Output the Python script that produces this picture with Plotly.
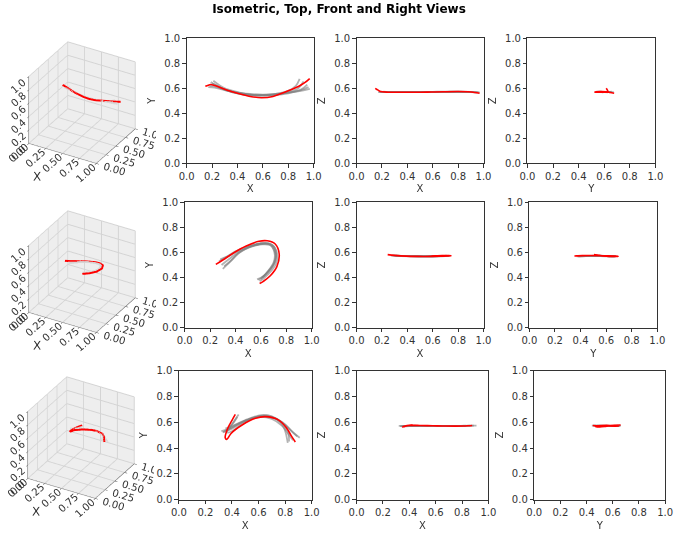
import plotly.graph_objects as go

# ---------------- data ----------------
# Row 1
r1_red_x = [0.147, 0.17, 0.19, 0.25, 0.32, 0.40, 0.50, 0.59, 0.68, 0.80, 0.88, 0.93, 0.969]
r1_red_y = [0.616, 0.625, 0.630, 0.612, 0.585, 0.560, 0.535, 0.525, 0.535, 0.580, 0.615, 0.645, 0.678]
r1_red_z = [0.600, 0.585, 0.574, 0.569, 0.568, 0.568, 0.569, 0.570, 0.572, 0.574, 0.572, 0.567, 0.561]
r1_gray_x = [
    [0.19, 0.22, 0.30, 0.40, 0.50, 0.60, 0.70, 0.80, 0.86, 0.89],
    [0.20, 0.24, 0.30, 0.40, 0.50, 0.60, 0.70, 0.80, 0.88, 0.92],
    [0.18, 0.22, 0.30, 0.40, 0.50, 0.60, 0.70, 0.80, 0.90, 0.95],
    [0.17, 0.22, 0.30, 0.40, 0.50, 0.60, 0.70, 0.80, 0.90, 0.97],
    [0.21, 0.25, 0.30, 0.40, 0.50, 0.60, 0.70, 0.80, 0.90, 0.96],
]
r1_gray_y = [
    [0.650, 0.630, 0.590, 0.560, 0.545, 0.545, 0.555, 0.580, 0.620, 0.675],
    [0.640, 0.620, 0.590, 0.560, 0.545, 0.545, 0.550, 0.570, 0.600, 0.655],
    [0.620, 0.615, 0.590, 0.565, 0.550, 0.545, 0.550, 0.565, 0.590, 0.630],
    [0.610, 0.605, 0.585, 0.565, 0.555, 0.550, 0.555, 0.565, 0.580, 0.595],
    [0.660, 0.630, 0.600, 0.570, 0.550, 0.540, 0.545, 0.560, 0.585, 0.610],
]
r1_gray_z = [
    [0.572, 0.571, 0.570, 0.570, 0.570, 0.571, 0.572, 0.572, 0.571, 0.569],
    [0.571, 0.570, 0.570, 0.569, 0.570, 0.571, 0.572, 0.573, 0.571, 0.570],
    [0.570, 0.570, 0.569, 0.569, 0.570, 0.571, 0.572, 0.572, 0.571, 0.568],
    [0.569, 0.569, 0.569, 0.570, 0.570, 0.571, 0.572, 0.572, 0.570, 0.567],
    [0.573, 0.571, 0.570, 0.570, 0.571, 0.572, 0.573, 0.573, 0.572, 0.569],
]

# Row 2
r2_red_x = [0.245, 0.30, 0.39, 0.48, 0.585, 0.65, 0.713, 0.744, 0.726, 0.674, 0.62, 0.59]
r2_red_y = [0.505, 0.540, 0.600, 0.650, 0.690, 0.694, 0.668, 0.590, 0.487, 0.414, 0.370, 0.352]
r2_red_z = [0.583, 0.577, 0.571, 0.569, 0.569, 0.570, 0.572, 0.574, 0.576, 0.575, 0.573, 0.572]
r2_gray_x = [
    [0.27, 0.32, 0.40, 0.50, 0.60, 0.66, 0.70, 0.72, 0.71, 0.67, 0.62, 0.58],
    [0.29, 0.34, 0.42, 0.50, 0.60, 0.66, 0.69, 0.71, 0.70, 0.67, 0.63, 0.60],
    [0.30, 0.35, 0.42, 0.50, 0.60, 0.67, 0.71, 0.73, 0.72, 0.68, 0.63, 0.59],
    [0.28, 0.33, 0.40, 0.50, 0.60, 0.66, 0.70, 0.72, 0.71, 0.68, 0.64, 0.61],
    [0.31, 0.36, 0.43, 0.52, 0.61, 0.67, 0.70, 0.715, 0.70, 0.665, 0.62, 0.57],
]
r2_gray_y = [
    [0.530, 0.560, 0.610, 0.650, 0.675, 0.675, 0.650, 0.580, 0.520, 0.460, 0.410, 0.380],
    [0.500, 0.540, 0.600, 0.640, 0.670, 0.670, 0.645, 0.580, 0.520, 0.470, 0.420, 0.390],
    [0.470, 0.520, 0.590, 0.640, 0.670, 0.670, 0.640, 0.575, 0.510, 0.450, 0.400, 0.370],
    [0.545, 0.565, 0.600, 0.645, 0.670, 0.668, 0.645, 0.585, 0.525, 0.470, 0.425, 0.400],
    [0.490, 0.530, 0.600, 0.645, 0.665, 0.660, 0.630, 0.570, 0.510, 0.460, 0.410, 0.385],
]
r2_gray_z = [
    [0.576, 0.574, 0.571, 0.570, 0.570, 0.571, 0.572, 0.573, 0.573, 0.572, 0.571, 0.570],
    [0.575, 0.573, 0.571, 0.570, 0.570, 0.571, 0.572, 0.573, 0.573, 0.572, 0.571, 0.571],
    [0.574, 0.572, 0.570, 0.569, 0.570, 0.571, 0.572, 0.572, 0.572, 0.571, 0.570, 0.570],
    [0.577, 0.575, 0.572, 0.570, 0.570, 0.571, 0.572, 0.573, 0.574, 0.573, 0.572, 0.571],
    [0.575, 0.573, 0.571, 0.570, 0.570, 0.570, 0.571, 0.572, 0.572, 0.571, 0.570, 0.570],
]

# Row 3
r3_red_x = [0.425, 0.40, 0.369, 0.349, 0.361, 0.393, 0.479, 0.577, 0.651, 0.749, 0.811, 0.848, 0.877]
r3_red_y = [0.660, 0.615, 0.555, 0.480, 0.467, 0.513, 0.580, 0.630, 0.643, 0.618, 0.555, 0.492, 0.447]
r3_red_z = [0.578, 0.576, 0.570, 0.563, 0.566, 0.574, 0.575, 0.572, 0.571, 0.570, 0.571, 0.573, 0.575]
r3_gray_x = [
    [0.32, 0.38, 0.45, 0.55, 0.63, 0.72, 0.80, 0.86, 0.91],
    [0.45, 0.41, 0.37, 0.36, 0.40, 0.48, 0.58, 0.66, 0.74, 0.79, 0.82],
    [0.33, 0.40, 0.50, 0.60, 0.70, 0.78, 0.84, 0.89],
    [0.44, 0.40, 0.35, 0.34, 0.40, 0.50, 0.60, 0.70, 0.78, 0.83, 0.86],
    [0.35, 0.42, 0.52, 0.62, 0.70, 0.77, 0.82, 0.83],
]
r3_gray_y = [
    [0.530, 0.550, 0.590, 0.630, 0.645, 0.630, 0.580, 0.520, 0.480],
    [0.660, 0.600, 0.540, 0.520, 0.530, 0.590, 0.640, 0.650, 0.620, 0.560, 0.440],
    [0.520, 0.560, 0.610, 0.645, 0.640, 0.600, 0.540, 0.490],
    [0.640, 0.580, 0.530, 0.525, 0.550, 0.610, 0.640, 0.625, 0.570, 0.500, 0.460],
    [0.550, 0.580, 0.625, 0.655, 0.645, 0.600, 0.530, 0.450],
]
r3_gray_z = [
    [0.571, 0.571, 0.572, 0.572, 0.571, 0.571, 0.572, 0.573, 0.573],
    [0.574, 0.572, 0.569, 0.568, 0.570, 0.572, 0.572, 0.571, 0.571, 0.572, 0.573],
    [0.570, 0.571, 0.572, 0.572, 0.571, 0.571, 0.572, 0.573],
    [0.573, 0.571, 0.569, 0.569, 0.571, 0.572, 0.572, 0.571, 0.571, 0.572, 0.573],
    [0.571, 0.571, 0.572, 0.572, 0.571, 0.571, 0.572, 0.573],
]

rows = [
    (r1_red_x, r1_red_y, r1_red_z, r1_gray_x, r1_gray_y, r1_gray_z),
    (r2_red_x, r2_red_y, r2_red_z, r2_gray_x, r2_gray_y, r2_gray_z),
    (r3_red_x, r3_red_y, r3_red_z, r3_gray_x, r3_gray_y, r3_gray_z),
]

tick_vals = [0, 0.2, 0.4, 0.6, 0.8, 1.0]
tick_text = ["0.0", "0.2", "0.4", "0.6", "0.8", "1.0"]
tick3_xy = [0, 0.25, 0.5, 0.75, 1.0]
tick3_xy_text = ["0.00", "0.25", "0.50", "0.75", "1.00"]

# ---------------- layout geometry (pixels) ----------------
W, H = 678, 533
panel_px = [
    [((183, 313), (33, 161)), ((357, 487), (33, 161)), ((532, 663), (33, 161))],
    [((181, 311), (201, 329)), ((357, 487), (201, 329)), ((534, 665), (201, 329))],
    [((175, 311), (373, 505)), ((357, 492), (373, 505)), ((539, 673), (373, 505))],
]
scene_px = [((0, 152), (22, 182)), ((0, 152), (195, 355)), ((0, 150), (365, 525))]

GRAY = "rgba(128,128,128,0.6)"
RED = "#ff0000"
FONT = "DejaVu Sans"

fig = go.Figure()
layout = {}
views = [("X", "Y", 0, 1), ("X", "Z", 0, 2), ("Y", "Z", 1, 2)]

ax_i = 0
for r, (rx, ry, rz, gx, gy, gz) in enumerate(rows):
    red = [rx, ry, rz]
    sname = "scene" if r == 0 else f"scene{r + 1}"
    for k in range(len(gx)):
        fig.add_trace(go.Scatter3d(x=gx[k], y=gy[k], z=gz[k], mode="lines",
                                   line=dict(color=GRAY, width=3), scene=sname,
                                   showlegend=False, hoverinfo="skip"))
    fig.add_trace(go.Scatter3d(x=rx, y=ry, z=rz, mode="lines",
                               line=dict(color=RED, width=4), scene=sname,
                               showlegend=False, hoverinfo="skip"))
    (sx0, sx1), (sy0, sy1) = scene_px[r]
    ax3 = dict(range=[0, 1], showbackground=True, backgroundcolor="#eeeeee",
               gridcolor="#d4d4d4", linecolor="#444", showspikes=False,
               tickfont=dict(size=11, family=FONT, color="#333"), zeroline=False,
               ticks="outside", ticklen=3,
               title=dict(font=dict(size=12, family=FONT, color="#333")))
    layout[sname] = dict(
        domain=dict(x=[sx0 / W, sx1 / W], y=[1 - sy1 / H, 1 - sy0 / H]),
        xaxis=dict(ax3, tickvals=tick3_xy, ticktext=tick3_xy_text, title_text="X"),
        yaxis=dict(ax3, tickvals=tick3_xy, ticktext=tick3_xy_text, title_text="Y"),
        zaxis=dict(ax3, tickvals=tick_vals, ticktext=tick_text, title_text="Z"),
        aspectmode="cube",
        camera=dict(eye=dict(x=0.433 * 2.7, y=-0.75 * 2.7, z=0.5 * 2.7),
                    center=dict(x=0, y=0, z=-0.05),
                    projection=dict(type="orthographic")),
        bgcolor="rgba(0,0,0,0)",
    )
    for c, (hname, vname, hi, vi) in enumerate(views):
        ax_i += 1
        xa = "x" if ax_i == 1 else f"x{ax_i}"
        ya = "y" if ax_i == 1 else f"y{ax_i}"
        for k in range(len(gx)):
            g = [gx[k], gy[k], gz[k]]
            fig.add_trace(go.Scatter(x=g[hi], y=g[vi], mode="lines", xaxis=xa, yaxis=ya,
                                     line=dict(color=GRAY, width=1.8, shape="spline"),
                                     showlegend=False, hoverinfo="skip"))
        fig.add_trace(go.Scatter(x=red[hi], y=red[vi], mode="lines", xaxis=xa, yaxis=ya,
                                 line=dict(color=RED, width=1.6, shape="spline"),
                                 showlegend=False, hoverinfo="skip"))
        (px0, px1), (py0, py1) = panel_px[r][c]
        common = dict(range=[0, 1], tickvals=tick_vals, ticktext=tick_text, showgrid=False,
                      zeroline=False, showline=True, mirror=True, linecolor="#333",
                      linewidth=1, ticks="outside", ticklen=3.5, tickcolor="#333",
                      tickfont=dict(size=10, family=FONT, color="#333"), fixedrange=True)
        key_x = "xaxis" if ax_i == 1 else f"xaxis{ax_i}"
        key_y = "yaxis" if ax_i == 1 else f"yaxis{ax_i}"
        layout[key_x] = dict(common, domain=[px0 / W, px1 / W], anchor=ya,
                             title=dict(text=hname, standoff=4,
                                        font=dict(size=10, family=FONT, color="#333")))
        layout[key_y] = dict(common, domain=[1 - py1 / H, 1 - py0 / H], anchor=xa,
                             title=dict(text=vname, standoff=6,
                                        font=dict(size=10, family=FONT, color="#333")))

fig.update_layout(
    width=W, height=H,
    margin=dict(l=0, r=0, t=0, b=0),
    paper_bgcolor="white", plot_bgcolor="white",
    showlegend=False,
    title=dict(text="<b>Isometric, Top, Front and Right Views</b>",
               x=0.5, xanchor="center", y=1 - 9 / H, yanchor="middle", yref="container",
               font=dict(size=12, family=FONT, color="black")),
    **layout,
)

fig.write_html("out.html")
